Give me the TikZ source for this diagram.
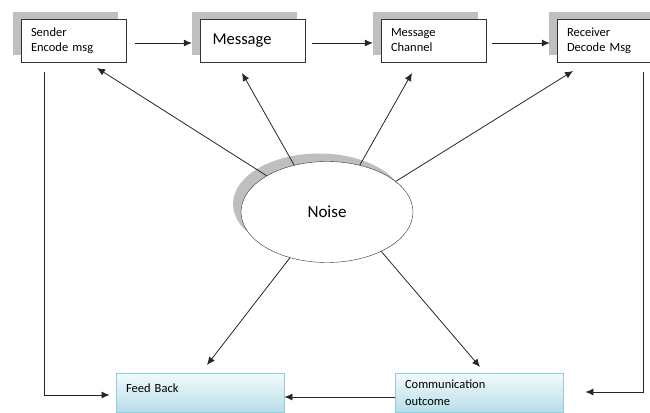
\documentclass[tikz,border=0pt]{standalone}
\usepackage{fontspec}
\setmainfont{Carlito}
\usetikzlibrary{shapes, arrows.meta, positioning, shadows}

\definecolor{boxgray}{RGB}{191,191,191}
\definecolor{fbline}{RGB}{146,205,220}
\definecolor{fbtop}{RGB}{242,250,252}
\definecolor{fbbot}{RGB}{183,222,232}

\tikzset{
  topbox/.style={draw=black!80, fill=white, minimum width=105pt, minimum height=43pt,
    text width=85pt, align=left, font=\fontsize{12.5}{15}\selectfont,
    general shadow={fill=boxgray, shadow xshift=-8pt, shadow yshift=7pt}},
  bottombox/.style={draw=fbline, line width=0.8pt, top color=fbtop, bottom color=fbbot,
    minimum width=168pt, minimum height=39pt, text width=148pt, align=left,
    font=\fontsize{12.5}{17}\selectfont},
  link/.style={draw=black!85, line width=0.8pt, arrows=-{Latex[length=8pt,width=7pt]}}
}

\begin{document}
\begin{tikzpicture}[x=1pt,y=1pt]
  \useasboundingbox (0,0) rectangle (650,412);
  \node[topbox] (snd) at (73.5,371.5) {Sender\\Encode msg};
  \node[topbox, text width=80pt, font=\fontsize{16.5}{18}\selectfont] (msg) at (252.5,371.5) {Message};
  \node[topbox] (chn) at (433.5,371.5) {Message\\Channel};
  \node[topbox] (rcv) at (609.5,371.5) {Receiver\\Decode Msg};
  \node[bottombox, text depth=8pt] (fb) at (200,19.5) {Feed Back};
  \node[bottombox] (oc) at (479,19.5) {Communication\\outcome};
  \node[ellipse, draw=black!80, fill=white, minimum width=172pt, minimum height=101pt,
    general shadow={fill=boxgray, shadow xshift=-8pt, shadow yshift=8pt},
    font=\fontsize{17}{20}\selectfont] (noise) at (327,200) {Noise};

  \coordinate (tipS) at (97,344);
  \coordinate (tipM) at (242,339);
  \coordinate (tipC) at (412,339);
  \coordinate (tipR) at (573,341);
  \coordinate (tipF) at (207,47);
  \coordinate (tipO) at (480,45);

  \draw[link] ([xshift=9pt,yshift=-2.5pt]snd.east) -- ([xshift=-8pt,yshift=-2.5pt]msg.west);
  \draw[link] ([xshift=7pt,yshift=-2.5pt]msg.east) -- ([xshift=-8pt,yshift=-2.5pt]chn.west);
  \draw[link] ([xshift=6pt,yshift=-2.5pt]chn.east) -- ([xshift=-7pt,yshift=-2.5pt]rcv.west);

  \draw[link] (noise.149) -- (tipS);
  \draw[link] (noise.125) -- (tipM);
  \draw[link] (noise.55) -- (tipC);
  \draw[link] (noise.24) -- (tipR);
  \draw[link] (noise.231) -- (tipF);
  \draw[link] (noise.324) -- (tipO);

  \draw[link] ([xshift=-29.5pt,yshift=-10pt]snd.south) |- ([xshift=-6pt,yshift=-2.5pt]fb.west);
  \draw[link] ([xshift=33.5pt,yshift=-10pt]rcv.south) |- ([xshift=22pt,yshift=0.5pt]oc.east);
  \draw[link] ([yshift=-4.5pt]oc.west) -- ([yshift=-4.5pt]fb.east);
\end{tikzpicture}
\end{document}
